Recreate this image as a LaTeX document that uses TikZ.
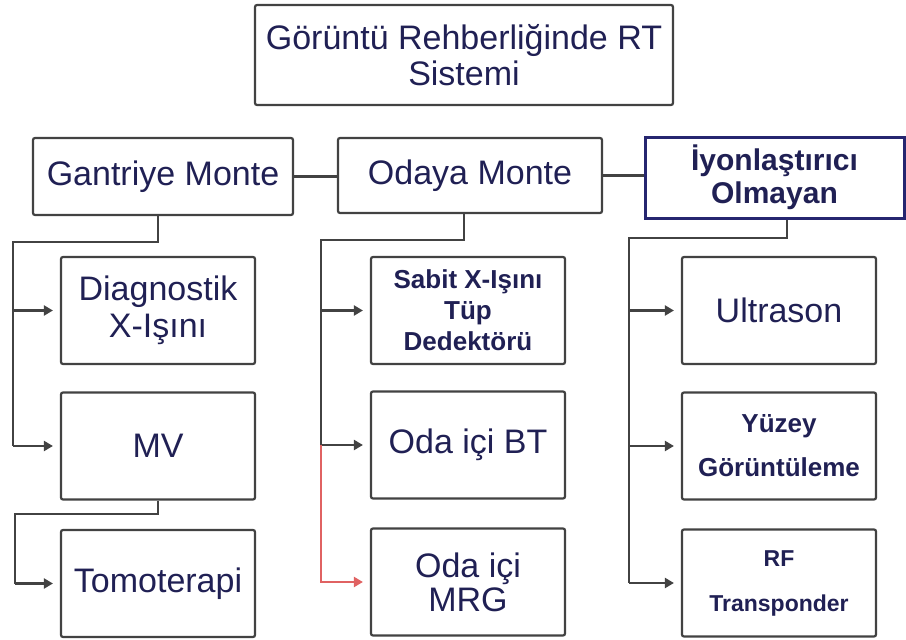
\documentclass[tikz,border=0pt]{standalone}
\usepackage{fontspec}
\setmainfont{Liberation Sans}
\usepackage{xcolor}
\usetikzlibrary{arrows.meta}
\definecolor{ink}{RGB}{32,32,84}
\definecolor{edge}{RGB}{66,66,66}
\definecolor{navy}{RGB}{38,38,112}
\definecolor{redl}{RGB}{224,98,98}
\tikzset{
  box/.style={draw=edge,line width=2.2pt,rounded corners=2pt,inner sep=0pt,align=center,text=ink,
    minimum width=194pt,minimum height=107pt,font=\fontsize{34}{37}\selectfont},
  hbox/.style={box,minimum height=77pt},
  nbox/.style={box,draw=navy,line width=3pt,rounded corners=0pt},
  ln/.style={draw=edge,line width=2.2pt},
  arr/.style={ln,-{Triangle[length=9pt,width=10pt]},shorten >=7pt},
  rarr/.style={arr,draw=redl}
}

\begin{document}
\begin{tikzpicture}[x=1pt,y=-1pt]
\useasboundingbox (0,0) rectangle (906,640);
% top level
\node[box,minimum width=418pt,minimum height=100pt,font=\fontsize{34}{36}\selectfont] (top) at (464,55) {Görüntü Rehberliğinde RT\\Sistemi};
\node[hbox,minimum width=260pt] (gantry) at (163,176.5) {Gantriye Monte};
\node[hbox,minimum width=264pt,minimum height=75pt] (room) at (470,175.5) {Odaya Monte};
\node[nbox,minimum width=259pt,minimum height=81pt,font=\fontsize{30}{33}\bfseries\selectfont] (nonion) at (774.5,177.5) {İyonlaştırıcı\\Olmayan};
\draw[ln] (gantry.east) -- (gantry.east -| room.west);
\draw[ln] (room.east) -- (room.east -| nonion.west);
% gantry column
\node[box] (diag) at (158,310.5) {Diagnostik\\X-Işını};
\node[box] (mv) at (158,446) {MV};
\node[box] (tomo) at (158,583.5) {Tomoterapi};
\coordinate (ga) at (158,242); \coordinate (gb) at (13,242);
\coordinate (ma) at (158,514); \coordinate (mb) at (15,514);
\draw[ln] (gantry.south -| ga) -- (ga) -- (gb) -- (gb |- mv);
\draw[arr] (gb |- diag) -- (diag.west);
\draw[arr] (gb |- mv) -- (mv.west);
\draw[ln] (mv.south) -- (ma) -- (mb) -- (mb |- tomo);
\draw[arr] (mb |- tomo) -- (tomo.west);
% room column
\node[box,font=\fontsize{26}{31}\bfseries\selectfont] (fixed) at (468,310.5) {Sabit X-Işını\\Tüp\\Dedektörü};
\node[box] (ct) at (468,445) {Oda içi BT};
\node[box,font=\fontsize{34}{34}\selectfont] (mri) at (468,582) {Oda içi\\MRG};
\coordinate (ra) at (464,240); \coordinate (rb) at (321,240);
\draw[ln] (room.south -| ra) -- (ra) -- (rb) -- (rb |- ct);
\draw[arr] (rb |- fixed) -- (fixed.west);
\draw[arr] (rb |- ct) -- (ct.west);
\draw[rarr] (rb |- ct) |- (mri.west);
% non-ionizing column
\node[box] (us) at (779,310.5) {Ultrason};
\node[box,font=\fontsize{26}{44}\bfseries\selectfont] (surf) at (779,446) {Yüzey\\Görüntüleme};
\node[box,font=\fontsize{23}{45}\bfseries\selectfont] (rf) at (779,583) {RF\\Transponder};
\coordinate (na) at (787,238); \coordinate (nb) at (629,238);
\draw[ln] (nonion.south -| na) -- (na) -- (nb) -- (nb |- rf);
\draw[arr] (nb |- us) -- (us.west);
\draw[arr] (nb |- surf) -- (surf.west);
\draw[arr] (nb |- rf) -- (rf.west);
\end{tikzpicture}
\end{document}
